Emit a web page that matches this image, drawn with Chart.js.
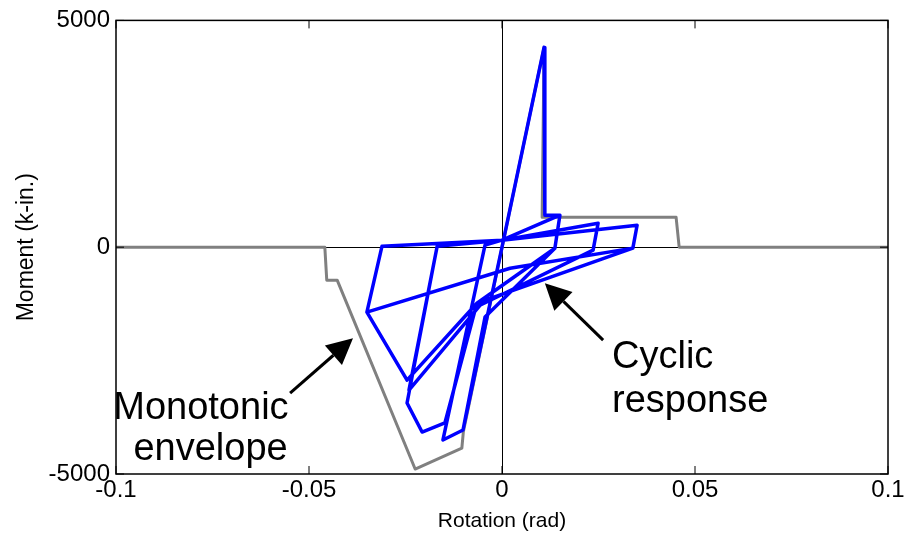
<!DOCTYPE html>
<html>
<head>
<meta charset="utf-8">
<script src="https://cdn.jsdelivr.net/npm/chart.js@4/dist/chart.umd.min.js"></script>
<style>
html, body { margin: 0; padding: 0; background: #fff; }
</style>
</head>
<body>
<canvas id="myChart" width="909" height="536"></canvas>
<script>
// cyclic response path (rotation in rad, moment in k-in.)
const cyclicRotation = [0, -0.0101, 0, 0.0109, 0.0111, 0.0150, 0.0137, -0.0044, -0.0101, -0.0153,
    -0.0044, 0, 0.0150, 0.0137, -0.0065, -0.0148, -0.0207, -0.0246, -0.0168, 0,
    0.0249, 0.0236, -0.0057, -0.0241, -0.0168, 0, 0.0350, 0.0339, -0.0065, -0.0246,
    -0.0350, -0.0311, 0, 0.0350, 0.0339, 0.0021, -0.0350, -0.0311, 0];
const cyclicMoment = [0, -4030, 0, 4405, 705, 705, -22, -1540, -4030, -4250,
    45, 155, 705, -22, -1235, -3875, -4075, -3435, 20, 155,
    530, -65, -1280, -3150, 20, 155, 485, -20, -1235, -2930,
    -1430, 20, 155, 485, -20, -465, -1430, 20, 155];

// monotonic envelope
const envelopeRotation = [-0.1, -0.0459, -0.0454, -0.0427, -0.0225, -0.0104, -0.0100, 0.0109, 0.0104, 0.0451, 0.0459, 0.1];
const envelopeMoment = [0, 0, -727, -727, -4890, -4427, -4060, 4405, 661, 661, 0, 0];

const xTicks = [-0.1, -0.05, 0, 0.05, 0.1];
const yTicks = [-5000, 0, 5000];

// annotation texts and arrows (data coordinates)
const labels = [
    { text: 'Monotonic', x: -0.078, y: -3790, align: 'center' },
    { text: 'envelope', x: -0.0755, y: -4690, align: 'center' },
    { text: 'Cyclic', x: 0.0285, y: -2660, align: 'left' },
    { text: 'response', x: 0.0285, y: -3630, align: 'left' }
];
const arrows = [
    { from: [-0.0549, -3216], to: [-0.0386, -2005] },
    { from: [0.0262, -2049], to: [0.0111, -793] }
];

function toPoints(xs, ys) {
    return xs.map(function (x, i) { return { x: x, y: ys[i] }; });
}

const boxPlugin = {
    id: 'boxPlugin',
    afterDatasetsDraw(chart) {
        const ctx = chart.ctx;
        const a = chart.chartArea;
        const sx = chart.scales.x, sy = chart.scales.y;
        ctx.save();
        ctx.strokeStyle = '#000';
        ctx.lineWidth = 1.5;
        ctx.strokeRect(a.left, a.top, a.right - a.left, a.bottom - a.top);
        ctx.lineWidth = 1;
        const tl = 8;
        xTicks.forEach(function (v) {
            const p = sx.getPixelForValue(v);
            ctx.beginPath();
            ctx.moveTo(p, a.bottom); ctx.lineTo(p, a.bottom - tl);
            ctx.moveTo(p, a.top); ctx.lineTo(p, a.top + tl);
            ctx.stroke();
        });
        yTicks.forEach(function (v) {
            const p = sy.getPixelForValue(v);
            ctx.beginPath();
            ctx.moveTo(a.left, p); ctx.lineTo(a.left + tl, p);
            ctx.moveTo(a.right, p); ctx.lineTo(a.right - tl, p);
            ctx.stroke();
        });
        ctx.restore();
    },
    afterDraw(chart) {
        const ctx = chart.ctx;
        const sx = chart.scales.x, sy = chart.scales.y;
        ctx.save();
        ctx.fillStyle = '#000';
        ctx.font = '38px "Liberation Sans", Arial, sans-serif';
        ctx.textBaseline = 'alphabetic';
        labels.forEach(function (l) {
            ctx.textAlign = l.align;
            ctx.fillText(l.text, sx.getPixelForValue(l.x), sy.getPixelForValue(l.y));
        });
        arrows.forEach(function (ar) {
            const x0 = sx.getPixelForValue(ar.from[0]), y0 = sy.getPixelForValue(ar.from[1]);
            const x1 = sx.getPixelForValue(ar.to[0]), y1 = sy.getPixelForValue(ar.to[1]);
            const ang = Math.atan2(y1 - y0, x1 - x0);
            const hl = 26, hw = 13;
            const bx = x1 - hl * Math.cos(ang), by = y1 - hl * Math.sin(ang);
            ctx.strokeStyle = '#000';
            ctx.lineWidth = 3;
            ctx.beginPath();
            ctx.moveTo(x0, y0); ctx.lineTo(bx, by);
            ctx.stroke();
            ctx.beginPath();
            ctx.moveTo(x1, y1);
            ctx.lineTo(bx + hw * Math.sin(ang), by - hw * Math.cos(ang));
            ctx.lineTo(bx - hw * Math.sin(ang), by + hw * Math.cos(ang));
            ctx.closePath();
            ctx.fill();
        });
        ctx.restore();
    }
};

const zeroLine = function (c) {
    return c.tick && c.tick.value === 0 ? '#000' : 'rgba(0,0,0,0)';
};

const ctx = document.getElementById('myChart').getContext('2d');
const chart = new Chart(ctx, {
    type: 'scatter',
    data: {
        datasets: [{
            label: 'Cyclic response',
            data: toPoints(cyclicRotation, cyclicMoment),
            showLine: true,
            borderColor: '#0000ff',
            borderWidth: 3.5,
            pointRadius: 0,
            tension: 0,
            borderJoinStyle: 'round'
        }, {
            label: 'Monotonic envelope',
            data: toPoints(envelopeRotation, envelopeMoment),
            showLine: true,
            borderColor: '#808080',
            borderWidth: 3,
            pointRadius: 0,
            tension: 0,
            borderJoinStyle: 'round'
        }]
    },
    options: {
        responsive: false,
        animation: false,
        layout: { padding: { left: 0, right: 21, top: 20, bottom: 0 } },
        plugins: { legend: { display: false }, tooltip: { enabled: false } },
        scales: {
            x: {
                type: 'linear',
                min: -0.1, max: 0.1,
                afterBuildTicks: function (s) { s.ticks = xTicks.map(function (v) { return { value: v }; }); },
                afterFit: function (s) { s.height = 62; },
                grid: { color: zeroLine, lineWidth: 1, drawTicks: false },
                border: { display: false },
                ticks: {
                    color: '#000',
                    padding: 2,
                    maxRotation: 0,
                    font: { family: '"Liberation Sans", Arial, sans-serif', size: 24 },
                    callback: function (v) { return String(v); }
                },
                title: {
                    display: true, text: 'Rotation (rad)', color: '#000',
                    font: { family: '"Liberation Sans", Arial, sans-serif', size: 21 },
                    padding: { top: 0, bottom: 2 }
                }
            },
            y: {
                type: 'linear',
                min: -5000, max: 5000,
                afterBuildTicks: function (s) { s.ticks = yTicks.map(function (v) { return { value: v }; }); },
                afterFit: function (s) { s.width = 116; },
                grid: { color: zeroLine, lineWidth: 1, drawTicks: false },
                border: { display: false },
                ticks: {
                    color: '#000',
                    padding: 6,
                    font: { family: '"Liberation Sans", Arial, sans-serif', size: 24 },
                    callback: function (v) { return String(v); }
                },
                title: {
                    display: true, text: 'Moment (k-in.)', color: '#000',
                    font: { family: '"Liberation Sans", Arial, sans-serif', size: 23 },
                    padding: { top: 13, bottom: 0 }
                }
            }
        }
    },
    plugins: [boxPlugin]
});
</script>
</body>
</html>
